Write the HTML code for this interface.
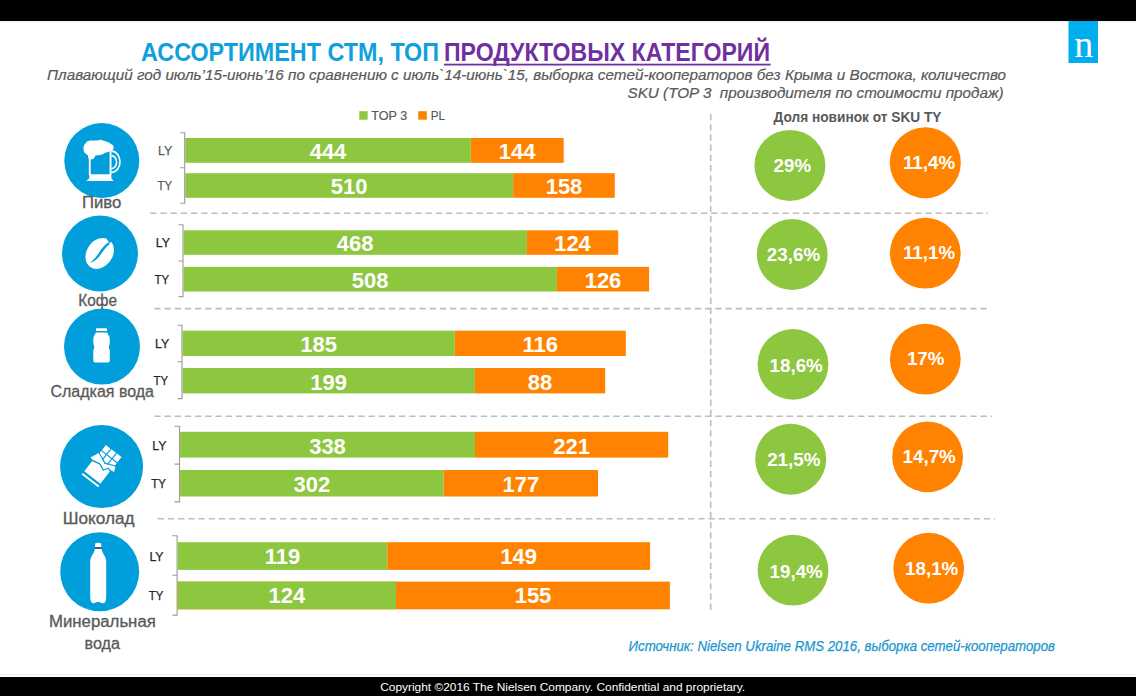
<!DOCTYPE html>
<html><head><meta charset="utf-8">
<style>
html,body{margin:0;padding:0;background:#fff;}
body{width:1136px;height:696px;overflow:hidden;position:relative;font-family:"Liberation Sans",sans-serif;}
svg{position:absolute;left:0;top:0;}
text{font-family:"Liberation Sans",sans-serif;}
</style></head>
<body>
<svg width="1136" height="696" viewBox="0 0 1136 696">
  <!-- top/bottom bars -->
  <rect x="0" y="0" width="1136" height="21" fill="#000"/>
  <rect x="0" y="677" width="1136" height="19" fill="#000"/>
  <rect x="0" y="674" width="1136" height="1.5" fill="#F0F0F0"/>
  <rect x="0" y="21" width="1136" height="1.5" fill="#F2F2F2"/>
  <!-- logo -->
  <rect x="1068.5" y="21" width="29.5" height="42" fill="#00AEEF"/>
  <text x="1083.7" y="57.2" font-family="Liberation Serif" font-size="38" fill="#fff" text-anchor="middle" style="font-family:'Liberation Serif',serif">n</text>

  <!-- title -->
  <text x="141" y="61.2" font-size="25" font-weight="bold" fill="#0FA0DE" textLength="298" lengthAdjust="spacingAndGlyphs">АССОРТИМЕНТ СТМ, ТОП</text>
  <text x="444" y="61.2" font-size="25" font-weight="bold" fill="#7030A0" textLength="326" lengthAdjust="spacingAndGlyphs">ПРОДУКТОВЫХ КАТЕГОРИЙ</text>
  <rect x="444" y="63.7" width="326.5" height="1.8" fill="#7030A0"/>

  <!-- subtitle -->
  <g font-style="italic" font-size="15" fill="#595959" stroke="#595959" stroke-width="0.2">
    <text x="47" y="79.5" textLength="959" lengthAdjust="spacingAndGlyphs">Плавающий год июль’15-июнь’16 по сравнению с июль`14-июнь`15, выборка сетей-кооператоров без Крыма и Востока, количество</text>
    <text x="627.5" y="98" textLength="376" lengthAdjust="spacingAndGlyphs">SKU (TOP 3&#160; производителя по стоимости продаж)</text>
  </g>

  <!-- legend -->
  <rect x="359.3" y="111.2" width="8.3" height="8.5" fill="#8DC63F"/>
  <text x="371.3" y="119.9" font-size="13.5" fill="#595959" stroke="#595959" stroke-width="0.2" textLength="36" lengthAdjust="spacingAndGlyphs">TOP 3</text>
  <rect x="418.2" y="111.2" width="8.6" height="8.5" fill="#FF8300"/>
  <text x="430.8" y="119.9" font-size="13.5" fill="#595959" stroke="#595959" stroke-width="0.2" textLength="14.3" lengthAdjust="spacingAndGlyphs">PL</text>

  <text x="773.5" y="122.2" font-size="14" font-weight="bold" fill="#595959" textLength="168" lengthAdjust="spacingAndGlyphs">Доля новинок от SKU TY</text>

  <!-- dashed lines -->
  <g stroke="#BDBDBD" stroke-width="1.6" stroke-dasharray="6.3 3.9" fill="none">
    <line x1="150.2" y1="213.3" x2="988" y2="213.3"/>
    <line x1="154.3" y1="308.6" x2="991" y2="308.6"/>
    <line x1="154.3" y1="416.2" x2="992" y2="416.2"/>
    <line x1="157.7" y1="518.7" x2="995" y2="518.7"/>
    <line x1="710.7" y1="114" x2="710.7" y2="613"/>
  </g>

  <!-- axes -->
  <g stroke="#9A9A9A" stroke-width="1.1" fill="none">
    <path d="M180.4 132.8 H184.7 V203.2 H180.4 M180.4 167.8 H184.7"/>
    <path d="M178.6 224.7 H183 V296.6 H178.6 M178.6 261 H183"/>
    <path d="M177.6 325.3 H182 V398.6 H177.6 M177.6 361.7 H182"/>
    <path d="M174.5 426.2 H179.5 V501.9 H174.5 M174.5 464.1 H179.5"/>
    <path d="M172.4 535.8 H177.1 V615.1 H172.4 M172.4 575.3 H177.1"/>
  </g>

  <!-- bars -->
  <g>
    <rect x="185.3" y="138" width="285.5" height="24.8" fill="#8DC63F"/>
    <rect x="470.8" y="138" width="92.9" height="24.8" fill="#FF8300"/>
    <rect x="185.3" y="173.2" width="327.9" height="24.6" fill="#8DC63F"/>
    <rect x="513.2" y="173.2" width="101.6" height="24.6" fill="#FF8300"/>

    <rect x="183.6" y="230.3" width="343.3" height="24.5" fill="#8DC63F"/>
    <rect x="526.9" y="230.3" width="91.3" height="24.5" fill="#FF8300"/>
    <rect x="183.6" y="266.9" width="373.3" height="24.6" fill="#8DC63F"/>
    <rect x="556.9" y="266.9" width="92.2" height="24.6" fill="#FF8300"/>

    <rect x="182.6" y="330.7" width="272.2" height="25.3" fill="#8DC63F"/>
    <rect x="454.8" y="330.7" width="171" height="25.3" fill="#FF8300"/>
    <rect x="182.6" y="368" width="292.3" height="25.4" fill="#8DC63F"/>
    <rect x="474.9" y="368" width="130.3" height="25.4" fill="#FF8300"/>

    <rect x="180.1" y="431.8" width="294.9" height="25.8" fill="#8DC63F"/>
    <rect x="475" y="431.8" width="193.2" height="25.8" fill="#FF8300"/>
    <rect x="180.1" y="470" width="263.6" height="26.5" fill="#8DC63F"/>
    <rect x="443.7" y="470" width="154.3" height="26.5" fill="#FF8300"/>

    <rect x="177.6" y="542.2" width="209.7" height="27.7" fill="#8DC63F"/>
    <rect x="387.3" y="542.2" width="262.8" height="27.7" fill="#FF8300"/>
    <rect x="177.6" y="581.6" width="218.4" height="27.7" fill="#FF8300"/>
    <rect x="177.6" y="581.6" width="218.4" height="27.7" fill="#8DC63F"/>
    <rect x="396" y="581.6" width="273.9" height="27.7" fill="#FF8300"/>
  </g>

  <!-- bar numbers -->
  <g font-size="22" font-weight="bold" fill="#fff" text-anchor="middle">
    <text x="328" y="159">444</text>
    <text x="517.2" y="159">144</text>
    <text x="349.2" y="194">510</text>
    <text x="564" y="194">158</text>

    <text x="355.2" y="251">468</text>
    <text x="572.5" y="251">124</text>
    <text x="370.2" y="287.5">508</text>
    <text x="603" y="287.5">126</text>

    <text x="318.7" y="352">185</text>
    <text x="540.3" y="352">116</text>
    <text x="328.7" y="389.5">199</text>
    <text x="540" y="389.5">88</text>

    <text x="327.5" y="453.5">338</text>
    <text x="571.6" y="453.5">221</text>
    <text x="311.9" y="492">302</text>
    <text x="520.8" y="492">177</text>

    <text x="282.4" y="564">119</text>
    <text x="518.7" y="564">149</text>
    <text x="286.8" y="603.3">124</text>
    <text x="533" y="603.3">155</text>
  </g>

  <!-- LY / TY labels -->
  <g font-size="13" fill="#262626" stroke="#262626" stroke-width="0.25">
    <text textLength="14.2" lengthAdjust="spacingAndGlyphs" x="158" y="155" fill="#595959" stroke="#595959">LY</text>
    <text textLength="14.6" lengthAdjust="spacingAndGlyphs" x="157.5" y="190" fill="#595959" stroke="#595959">TY</text>
    <text textLength="14.2" lengthAdjust="spacingAndGlyphs" x="155.8" y="247.3">LY</text>
    <text textLength="14.6" lengthAdjust="spacingAndGlyphs" x="154.5" y="284">TY</text>
    <text textLength="14.2" lengthAdjust="spacingAndGlyphs" x="155" y="348.3">LY</text>
    <text textLength="14.6" lengthAdjust="spacingAndGlyphs" x="153.6" y="385.4">TY</text>
    <text textLength="14.2" lengthAdjust="spacingAndGlyphs" x="152.2" y="449.5">LY</text>
    <text textLength="14.6" lengthAdjust="spacingAndGlyphs" x="151.2" y="487.6">TY</text>
    <text textLength="14.2" lengthAdjust="spacingAndGlyphs" x="149.4" y="560.5">LY</text>
    <text textLength="14.6" lengthAdjust="spacingAndGlyphs" x="148.7" y="599.7">TY</text>
  </g>

  <!-- blue icon circles -->
  <g fill="#009EDB">
    <circle cx="101.8" cy="160.6" r="37.5"/>
    <circle cx="100" cy="253.5" r="38"/>
    <circle cx="102" cy="346.6" r="38"/>
    <circle cx="101.6" cy="466.6" r="41.5"/>
    <circle cx="99.7" cy="571.7" r="39.5"/>
  </g>


  <!-- icons -->
  <g fill="#fff">
    <!-- beer -->
    <g>
      <path d="M87.4,142.4 L89.9,141 L92.8,141.3 L95.6,141 L98.2,141.3 L100.3,140.2 L102.8,141 L105,142 L107.1,142.4 L109.3,143.8 L112.2,145.3 L113.2,147.4 L112.5,149.2 L110.7,150.3 L107.9,151.4 L105,152.1 L102.1,153.9 L98.2,154.6 L95.3,155 L94.2,156.4 L93.5,158.2 L91,158.9 L89.2,157.8 L88.8,155.3 L86.3,153.5 L84.5,151.4 L84,148.5 L84.9,144.9 Z" stroke="#fff" stroke-width="1.2" stroke-linejoin="round"/>
      <circle cx="88.3" cy="143.6" r="2.4"/><circle cx="92.5" cy="142.6" r="2"/><circle cx="96.5" cy="142.5" r="2"/><circle cx="100.5" cy="141.9" r="2.1"/><circle cx="104.5" cy="143" r="2"/><circle cx="108.3" cy="144.6" r="2"/><circle cx="111.2" cy="147.2" r="2.2"/>
      <circle cx="85.8" cy="147.5" r="2.2"/><circle cx="86.2" cy="151.2" r="2.1"/><circle cx="90.5" cy="156.8" r="2.3"/>
    </g>
    <rect x="88.8" y="153" width="1.9" height="22"/>
    <rect x="109.6" y="149" width="1.9" height="26"/>
    <path d="M89.3,174.2 H111.3 V178.3 L113.6,181 H86.3 L89.3,178.3 Z"/>
    <path d="M111.4,151.2 A8.6,10.6 0 0 1 111.4,172.4" fill="none" stroke="#fff" stroke-width="1.7"/>
    <path d="M111.4,155.6 A5.2,6.5 0 0 1 111.4,168.6" fill="none" stroke="#fff" stroke-width="1.6"/>
    <!-- coffee bean -->
    <g transform="translate(99.7,253.4) rotate(-55)">
      <ellipse cx="0" cy="0" rx="16.5" ry="13"/>
    </g>
    <path d="M89.8,262.6 C93.5,260.5 96.5,256.5 99,252.7 C101.5,248.8 104.5,244.6 108.8,242.2 L109.7,243.9 C106,246.7 103.6,250.4 100.7,254.4 C97.8,258.5 94,261.9 89.8,262.6 Z" fill="#009EDB"/>
    <path d="M106.6,239 L109.5,243 L112.8,240.8 L110,238 Z" fill="#009EDB"/>
    <!-- sweet water bottle -->
    <path d="M96.8,328.3 H106.3 Q107,328.3 107,329.2 V330.9 H96 V329.2 Q96,328.3 96.8,328.3 Z"/>
    <path d="M95.9,332.6 H107.2 L109.5,337 Q110.2,340.5 109.6,344 Q108.3,346.8 109.4,349.2 L109.8,350.5 V360.8 Q109.8,362.4 108,362.4 H95.1 Q93.3,362.4 93.3,360.8 V350.5 L93.7,349.2 Q94.8,346.8 93.5,344 Q92.9,340.5 93.6,337 Z"/>
    <!-- chocolate -->
    <g transform="matrix(0.792,0.610,-0.610,0.792,105.8,444.9)">
      <rect x="0" y="0" width="5.8" height="6.6"/>
      <rect x="7" y="0" width="5.8" height="6.6"/>
      <rect x="14" y="0" width="5.8" height="6.6"/>
      <rect x="0" y="7.8" width="5.8" height="6.6"/>
      <rect x="7" y="7.8" width="5.8" height="6.6"/>
      <rect x="14" y="7.8" width="5.8" height="6.6"/>
      <path d="M-4.5,19.4 L-0.6,10.8 L10.7,15.7 L20.7,11.2 L23.2,16.4 L19.4,17 L15.8,16.5 L13.6,21 L7,18.2 L-1,19.9 Z"/>
      <path d="M-1,21 L7,19.3 L13.6,22.1 L15.8,17.6 L19.4,18.4 V34 H-1 Z"/>
      <polyline points="-0.8,10.2 10.7,15.1 20.9,10.6" fill="none" stroke="#009EDB" stroke-width="1.1"/>
      <polyline points="-2,20.6 7,18.75 13.6,21.55 15.8,17.05 21,18" fill="none" stroke="#009EDB" stroke-width="0.9"/>
      <rect x="-1" y="36.3" width="20.8" height="2"/>
    </g>
    <!-- mineral water bottle -->
    <path d="M95.3,543.2 Q98.2,542.4 101.1,543.2 L101.5,547 H94.9 Z"/>
    <rect x="94.8" y="547" width="6.8" height="2" fill="#4357A6"/>
    <path d="M94.8,549 H101.6 C101.8,553 106,556 106.2,561 V597.5 Q106,602 103.8,603.2 Q101.5,603.4 100.3,602.2 Q98.2,601.6 96.2,602.2 Q95,603.4 92.7,603.2 Q90.5,602 90.2,597.5 V561 C90.5,556 94.6,553 94.8,549 Z"/>
  </g>

  <!-- icon labels -->
  <g font-size="16" fill="#595959" stroke="#595959" stroke-width="0.3">
    <text x="82" y="208" textLength="39.3" lengthAdjust="spacingAndGlyphs">Пиво</text>
    <text x="78.3" y="305.5" textLength="38.7" lengthAdjust="spacingAndGlyphs">Кофе</text>
    <text x="50.5" y="397.4" textLength="103.5" lengthAdjust="spacingAndGlyphs">Сладкая вода</text>
    <text x="62.8" y="524.3" textLength="71.8" lengthAdjust="spacingAndGlyphs">Шоколад</text>
    <text x="49" y="626.9" textLength="106.8" lengthAdjust="spacingAndGlyphs">Минеральная</text>
    <text x="84.6" y="648.5" textLength="35.4" lengthAdjust="spacingAndGlyphs">вода</text>
  </g>

  <!-- percent circles -->
  <g fill="#8DC63F">
    <circle cx="789.9" cy="165.4" r="35.5"/>
    <circle cx="792.2" cy="254.5" r="35.4"/>
    <circle cx="793" cy="364.4" r="35.4"/>
    <circle cx="790.7" cy="459.2" r="35.5"/>
    <circle cx="793" cy="570.2" r="35.4"/>
  </g>
  <g fill="#FF8300">
    <circle cx="925.3" cy="162.7" r="35.5"/>
    <circle cx="925.3" cy="253.2" r="35.4"/>
    <circle cx="925.3" cy="359.2" r="35.4"/>
    <circle cx="927.6" cy="456.9" r="35.4"/>
    <circle cx="928.7" cy="568.2" r="35.4"/>
  </g>
  <g font-size="18.8" font-weight="bold" fill="#fff" text-anchor="middle">
    <text x="792.3" y="171.5">29%</text>
    <text x="929" y="169.2">11,4%</text>
    <text x="793.5" y="260.9">23,6%</text>
    <text x="929" y="258.8">11,1%</text>
    <text x="796.2" y="371.9">18,6%</text>
    <text x="925.7" y="365.1">17%</text>
    <text x="793.8" y="466.4">21,5%</text>
    <text x="929.2" y="463.1">14,7%</text>
    <text x="796.2" y="578">19,4%</text>
    <text x="931.7" y="574.5">18,1%</text>
  </g>

  <!-- source -->
  <text x="628.6" y="650.5" font-size="14" font-style="italic" fill="#1B95D0" stroke="#1B95D0" stroke-width="0.25" textLength="426.4" lengthAdjust="spacingAndGlyphs">Источник: Nielsen Ukraine RMS 2016, выборка сетей-кооператоров</text>

  <!-- copyright -->
  <text x="380.2" y="691" font-size="11.8" fill="#fff" textLength="365" lengthAdjust="spacingAndGlyphs">Copyright ©2016 The Nielsen Company. Confidential and proprietary.</text>
</svg>
</body></html>
